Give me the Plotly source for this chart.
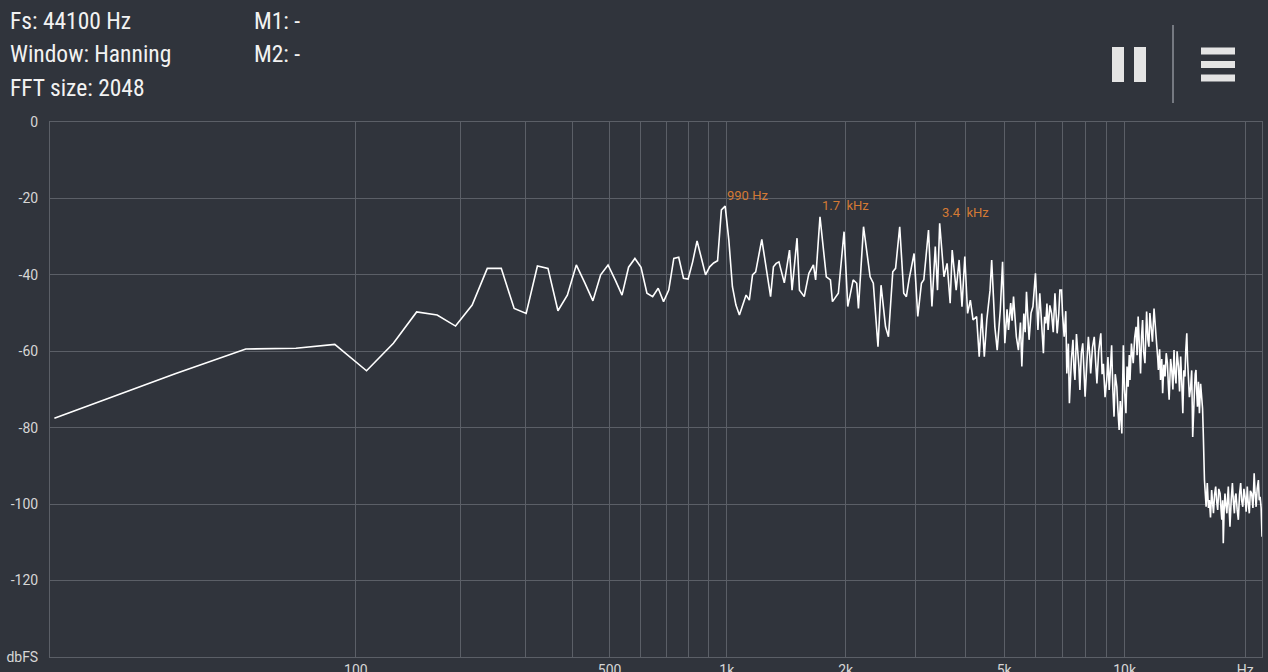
import math
import plotly.graph_objects as go

# FFT settings shown in the header
FS = 44100
N_FFT = 2048

# spectrum: FFT bin number -> level (dBFS)
fft_bin = [
    0, 1, 2, 3, 4, 5, 6, 7, 8, 9, 10, 11, 12, 13, 14, 15, 16, 17, 18, 19,
    20, 21, 22, 23, 24, 25, 26, 27, 28, 29, 30, 31, 32, 33, 34, 35, 36, 37, 38, 39,
    40, 41, 42, 43, 44, 45, 46, 47, 48, 49, 50, 52, 53, 54, 55, 57, 60, 61, 62, 63,
    65, 67, 68, 70, 71, 73, 75, 77, 78, 80, 83, 85, 86, 89, 92, 94, 97, 99, 100, 103,
    107, 109, 112, 114, 117, 119, 122, 124, 127, 130, 132, 134, 138, 141, 144, 146, 150, 153, 156, 158,
    160, 164, 167, 170, 172, 176, 179, 182, 185, 188, 191, 194, 198, 201, 204, 207, 210, 214, 216, 220,
    223, 227, 230, 233, 236, 238, 241, 243, 245, 247, 249, 252, 255, 257, 260, 262, 264, 266, 268, 271,
    274, 278, 280, 282, 285, 288, 291, 293, 295, 297, 299, 302, 305, 308, 311, 315, 318, 320, 323, 325,
    328, 331, 333, 336, 338, 342, 345, 347, 349, 352, 354, 357, 359, 362, 365, 368, 370, 374, 377, 380,
    382, 386, 390, 393, 396, 400, 405, 408, 411, 415, 419, 422, 425, 428, 431, 434, 437, 440, 444, 447,
    450, 453, 457, 461, 464, 468, 471, 474, 477, 479, 483, 488, 492, 496, 499, 502, 505, 509, 512, 515,
    518, 522, 525, 527, 531, 534, 537, 540, 545, 550, 555, 559, 562, 564, 568, 571, 575, 578, 582, 586,
    590, 594, 597, 600, 605, 609, 613, 617, 620, 624, 628, 633, 637, 641, 645, 649, 653, 657, 660, 664,
    667, 670, 674, 679, 683, 687, 690, 694, 697, 700, 703, 706, 710, 714, 719, 724, 727, 730, 735, 742,
    745, 747, 752, 756, 761, 766, 770, 774, 779, 784, 788, 793, 798, 804, 808, 812, 816, 819, 823, 827,
    831, 836, 840, 843, 847, 851, 857, 863, 868, 873, 877, 881, 887, 893, 899, 905, 910, 916, 922, 928,
    934, 940, 945, 951, 957, 964, 971, 978, 983, 989, 995, 1002, 1007, 1012, 1018, 1023,
]
level_db = [
    -77.5, -65.9, -59.4, -59.2, -58.2, -65.1, -57.9, -49.7, -50.5, -53.4, -47.9, -38.3, -38.3, -48.8, -50.1, -37.7, -38.3, -49.4, -45.3, -37.4,
    -42.1, -46.8, -40.0, -37.4, -41.3, -45.3, -38.0, -35.7, -38.0, -44.8, -45.7, -43.5, -47.0, -44.0, -35.7, -35.4, -40.9, -41.1, -36.6, -31.1,
    -35.6, -40.0, -37.9, -36.9, -36.3, -23.0, -22.0, -30.9, -43.1, -47.9, -50.5, -45.3, -46.6, -40.0, -39.2, -30.7, -45.7, -37.9, -37.0, -36.6,
    -42.1, -33.5, -44.0, -30.4, -44.0, -45.7, -39.6, -37.4, -41.3, -24.8, -40.5, -41.3, -47.0, -44.8, -28.7, -48.3, -41.3, -42.2, -48.8, -27.4,
    -40.5, -42.2, -58.8, -42.7, -53.6, -56.2, -39.2, -38.3, -27.4, -44.8, -45.7, -41.3, -34.4, -50.9, -42.2, -41.3, -28.3, -48.3, -32.6, -44.0,
    -26.5, -40.5, -37.0, -47.4, -33.5, -44.0, -36.1, -48.3, -35.2, -50.1, -46.6, -51.8, -50.9, -61.4, -50.1, -61.4, -51.8, -44.0, -36.1, -53.6,
    -59.7, -49.2, -36.6, -57.9, -49.0, -54.4, -47.4, -52.0, -45.7, -51.0, -56.2, -59.7, -52.5, -64.0, -50.1, -55.0, -44.4, -51.0, -57.0, -50.0,
    -48.3, -39.6, -47.0, -54.4, -44.8, -52.0, -60.5, -51.0, -52.7, -47.5, -54.4, -48.0, -50.1, -55.0, -44.8, -55.3, -50.0, -44.0, -44.0, -50.5,
    -56.2, -49.5, -65.8, -58.0, -73.6, -62.0, -57.0, -64.5, -67.5, -55.5, -58.8, -64.0, -70.1, -60.5, -57.9, -66.0, -71.9, -62.5, -56.2, -61.0,
    -65.8, -59.0, -56.2, -62.5, -68.4, -60.0, -55.3, -66.0, -63.3, -72.0, -67.5, -61.5, -70.1, -64.5, -58.4, -70.0, -77.1, -66.0, -69.3, -75.5,
    -80.6, -73.0, -81.5, -58.4, -70.0, -76.2, -64.0, -69.3, -61.0, -67.5, -58.0, -63.1, -56.5, -53.6, -61.0, -50.9, -58.0, -65.8, -56.0, -51.8,
    -60.0, -63.1, -55.0, -49.6, -57.0, -58.8, -50.0, -52.7, -57.5, -48.8, -56.0, -58.8, -62.0, -64.9, -59.5, -67.5, -62.0, -71.0, -63.5, -66.6,
    -60.5, -63.1, -68.5, -72.7, -62.0, -64.9, -70.0, -59.7, -65.5, -68.4, -60.0, -64.0, -70.5, -61.4, -68.0, -76.2, -65.0, -66.6, -60.0, -55.3,
    -62.5, -65.8, -72.0, -69.3, -65.0, -82.4, -74.0, -70.1, -66.0, -64.9, -70.5, -74.5, -68.0, -76.2, -68.5, -71.9, -75.0, -81.5, -93.7, -100.7,
    -96.0, -94.5, -101.0, -98.9, -103.5, -96.3, -99.5, -102.4, -97.5, -95.4, -99.0, -101.5, -96.0, -97.2, -101.0, -104.1, -99.0, -110.2, -101.5, -97.2,
    -100.0, -102.4, -98.0, -95.4, -101.0, -105.9, -99.0, -94.5, -99.5, -102.4, -98.0, -97.2, -101.5, -104.1, -97.5, -94.5, -99.0, -100.7, -96.0, -98.1,
    -102.0, -95.4, -99.5, -102.4, -96.5, -97.2, -101.0, -91.9, -97.0, -100.7, -96.0, -93.7, -99.0, -98.1, -101.0, -108.5,
]

# peak markers
peak_bins = [46, 80, 160]
peak_text = ["990 Hz", "1.7\u00a0 kHz", "3.4\u00a0 kHz"]

# axes
grid_hz = [100, 200, 300, 400, 500, 600, 700, 800, 900,
           1000, 2000, 3000, 4000, 5000, 6000, 7000, 8000, 9000, 10000, 20000]
grid_text = ["100", "", "", "", "500", "", "", "", "",
             "1k", "2k", "", "", "5k", "", "", "", "", "10k", "Hz"]
y_ticks = [0, -20, -40, -60, -80, -100, -120, -140]
y_text = ["0", "-20", "-40", "-60", "-80", "-100", "-120", "dbFS"]

BG = "#30343c"
GRID = "#5b5f67"
TICK_FONT = dict(family="Roboto", size=14, color="#d6d6d6")
HEAD_FONT = dict(family="Liberation Sans Narrow, Roboto Condensed, Roboto", size=23.5, color="#f2f2f2")

bin_hz = FS / N_FFT
# shift by one bin so that DC still fits on the log axis
x_vals = [b * bin_hz + bin_hz for b in fft_bin]

fig = go.Figure()
fig.add_trace(go.Scatter(
    x=x_vals, y=level_db, mode="lines",
    line=dict(color="#ffffff", width=1.6),
    hoverinfo="skip", showlegend=False,
))

fig.update_xaxes(
    type="log",
    range=[math.log10(21.0), math.log10(22050)],
    tickvals=[f + bin_hz for f in grid_hz], ticktext=grid_text,
    showgrid=True, gridcolor=GRID, gridwidth=1,
    showline=True, linecolor=GRID, linewidth=1, mirror=True,
    zeroline=False, ticks="", tickfont=TICK_FONT, automargin=False,
)
fig.update_yaxes(
    range=[-140, 0],
    tickvals=y_ticks, ticktext=y_text,
    showgrid=True, gridcolor=GRID, gridwidth=1,
    showline=True, linecolor=GRID, linewidth=1, mirror=True,
    zeroline=False, ticks="", tickfont=TICK_FONT, ticklabelstandoff=8,
    automargin=False,
)

# screen pixels -> paper coordinates (plot area is x 50..1262, y 122..657)
def px_x(x):
    return (x - 50) / 1212

def px_y(y):
    return (657 - y) / 535

annotations = []
header = [("Fs: 44100 Hz", 8, 21), ("Window: Hanning", 8, 54), ("FFT size: 2048", 8, 88),
          ("M1: -", 252, 21), ("M2: -", 252, 54)]
for text, x, y in header:
    annotations.append(dict(
        text=text, xref="paper", yref="paper", x=px_x(x), y=px_y(y),
        xanchor="left", yanchor="middle", showarrow=False, font=HEAD_FONT,
    ))

for b, t in zip(peak_bins, peak_text):
    annotations.append(dict(
        text=t, xref="x", yref="y",
        x=math.log10(b * bin_hz + bin_hz), y=level_db[fft_bin.index(b)],
        xanchor="left", yanchor="middle", yshift=11, showarrow=False,
        font=dict(family="Roboto", size=13, color="#d47a34"),
    ))

shapes = []
# pause button
for x0, x1 in [(1112, 1124), (1134, 1146)]:
    shapes.append(dict(type="rect", xref="paper", yref="paper",
                       x0=px_x(x0), x1=px_x(x1), y0=px_y(82), y1=px_y(47),
                       fillcolor="#e4e4e4", line=dict(width=0)))
# separator
shapes.append(dict(type="line", xref="paper", yref="paper",
                   x0=px_x(1173), x1=px_x(1173), y0=px_y(103), y1=px_y(25),
                   line=dict(color="#8d9199", width=1.5)))
# menu button
for y0, y1 in [(47.5, 54.5), (61, 68), (74.5, 81.5)]:
    shapes.append(dict(type="rect", xref="paper", yref="paper",
                       x0=px_x(1201), x1=px_x(1235), y0=px_y(y1), y1=px_y(y0),
                       fillcolor="#e4e4e4", line=dict(width=0)))

fig.update_layout(
    width=1268, height=672,
    margin=dict(l=50, r=6, t=122, b=15),
    paper_bgcolor=BG, plot_bgcolor=BG,
    annotations=annotations, shapes=shapes,
    showlegend=False, hovermode=False,
)

fig.write_html("out.html", config={"displayModeBar": False},
               post_script="document.body.style.margin='0';")
